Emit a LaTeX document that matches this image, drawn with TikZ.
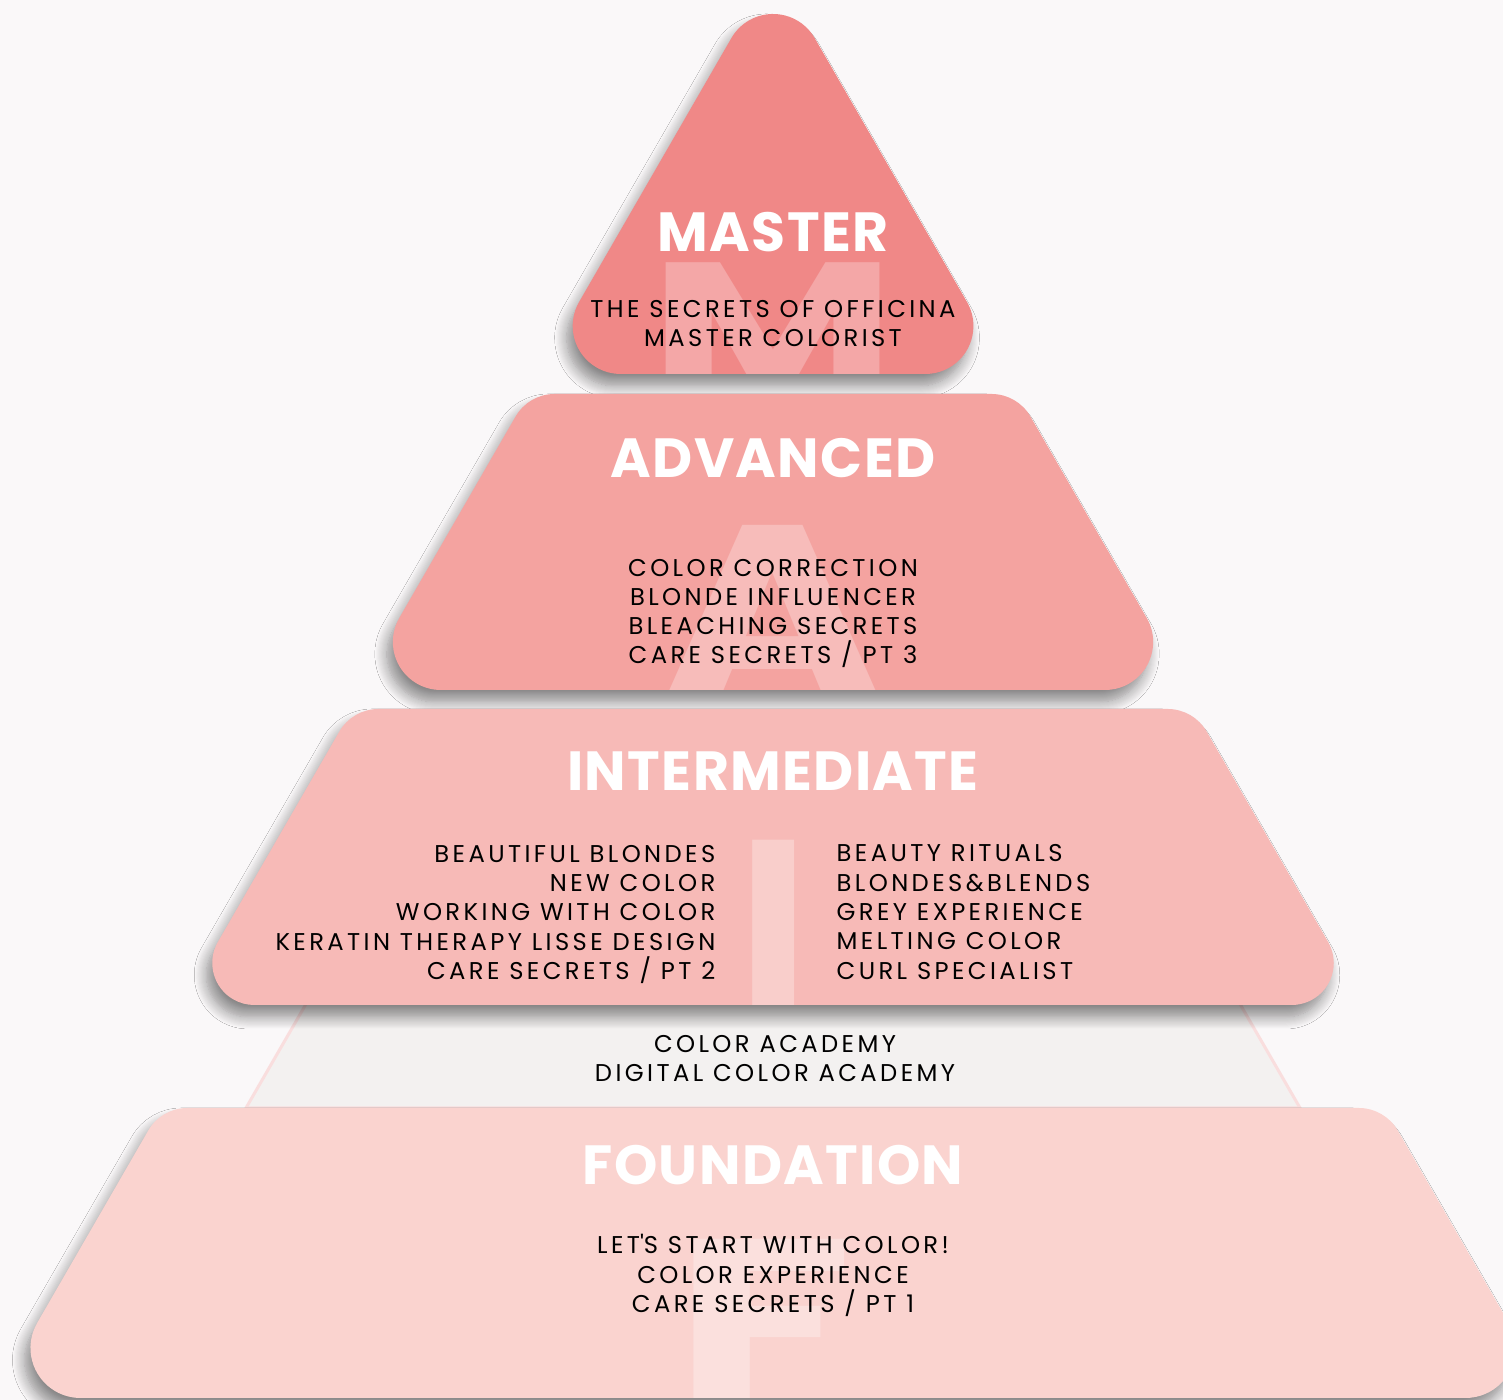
\documentclass[tikz,border=0pt]{standalone}
\usepackage{fontspec}
\setmainfont{Poppins}
\newfontfamily\bodyfont{Poppins}[LetterSpace=14]
\newfontfamily\titlefont{Poppins}[LetterSpace=2.5]
\usetikzlibrary{shadows.blur}

\definecolor{bgcol}{HTML}{FAF8F9}
\definecolor{mastercol}{HTML}{F08887}
\definecolor{masterlet}{HTML}{F4A7A7}
\definecolor{advcol}{HTML}{F4A3A0}
\definecolor{advlet}{HTML}{F7BCBA}
\definecolor{intcol}{HTML}{F7BAB7}
\definecolor{intlet}{HTML}{F9CECB}
\definecolor{fndcol}{HTML}{FAD3CF}
\definecolor{fndlet}{HTML}{FBE0DD}
\definecolor{bandcol}{HTML}{F3F1F0}
\definecolor{bandline}{HTML}{F9DEDE}

% one tier of the pyramid: top y, bottom y, half width on top, top radius, bottom radius
\newcommand{\settier}[5]{%
  \pgfmathsetmacro\tierT{#1}%
  \pgfmathsetmacro\tierB{#2}%
  \pgfmathsetmacro\tierwt{#3}%
  \pgfmathsetmacro\tierwb{#3+(#1-#2)/sqrt(3)}%
  \pgfmathsetmacro\tierrt{#4}%
  \pgfmathsetmacro\tierrb{#5}%
  \pgfmathsetmacro\tierdt{#4/sqrt(3)}%
  \pgfmathsetmacro\tierdb{#5*sqrt(3)}}
\newcommand{\tierpath}{(773-\tierwb+\tierdb,\tierB) -- (773+\tierwb-\tierdb,\tierB)
  arc[start angle=-90,end angle=30,radius=\tierrb]
  -- ({773+\tierwt+0.5*\tierdt},{\tierT-0.866*\tierdt})
  arc[start angle=30,end angle=90,radius=\tierrt]
  -- ({773-\tierwt+\tierdt},\tierT)
  arc[start angle=90,end angle=150,radius=\tierrt]
  -- ({773-\tierwb+0.5*\tierdb},{\tierB+0.866*\tierdb})
  arc[start angle=150,end angle=270,radius=\tierrb] -- cycle}
\newcommand{\masterpath}{(620.6,1026) -- (925.4,1026)
  arc[start angle=-90,end angle=30,radius=48] -- (814.6,1362)
  arc[start angle=30,end angle=150,radius=48] -- (579.1,1098)
  arc[start angle=150,end angle=270,radius=48] -- cycle}

\tikzset{
  tiershadow/.style={blur shadow={shadow xshift=-0.6mm, shadow yshift=-1.2mm,
      shadow blur radius=1.2mm, shadow blur steps=12, shadow opacity=45}},
  title/.style={font=\titlefont\fontsize{15.7}{18}\selectfont\bfseries, text=white,
      inner sep=0, anchor=base},
  body/.style={font=\bodyfont\fontsize{6.9}{8.34}\selectfont, text=black,
      inner sep=0, align=center},
  bigletter/.style={font=\fontsize{#1}{#1}\selectfont\bfseries, inner sep=0,
      anchor=north},
}

\begin{document}
\begin{tikzpicture}[x=0.1mm,y=0.1mm]
  \useasboundingbox (0,0) rectangle (1503,1400);
  \fill[bgcol] (0,0) rectangle (1503,1400);

  % master
  \fill[mastercol, tiershadow] \masterpath;
  \begin{scope}
    \clip \masterpath;
    \node[bigletter=51, text=masterlet] (bigm) at (773,1138) {\scalebox{1.5}[1]{M}};
  \end{scope}
  \node[title] (master) at (773,1148) {MASTER};
  \node[body] (mastertext) at (773,1076.5) {THE SECRETS OF OFFICINA\\MASTER COLORIST};

  % advanced
  \settier{1006}{710}{244.4}{45}{48}
  \fill[advcol, tiershadow] \tierpath;
  \begin{scope}
    \clip \tierpath;
    \node[bigletter=71, text=advlet] (biga) at (773,875) {\scalebox{1.22}[1]{A}};
  \end{scope}
  \node[title] (advanced) at (773,922) {ADVANCED};
  \node[body] (advancedtext) at (773,786.5) {COLOR CORRECTION\\BLONDE INFLUENCER\\BLEACHING SECRETS\\CARE SECRETS / PT 3};

  % academy band
  \filldraw[fill=bandcol, draw=bandline, line width=0.3mm]
    (246,292) -- (1300,292) -- (1231.9,410) -- (314.1,410) -- cycle;
  \node[body] (academy) at (775,341.5) {COLOR ACADEMY\\DIGITAL COLOR ACADEMY};

  % intermediate
  \settier{691}{395}{420.6}{45}{42}
  \fill[intcol, tiershadow] \tierpath;
  \begin{scope}
    \clip \tierpath;
    \node[bigletter=82, text=intlet] (bigi) at (773.5,560) {\scalebox{0.85}[1]{I}};
  \end{scope}
  \node[title] (intermediate) at (773,609) {INTERMEDIATE};
  \node[body, align=right, anchor=east] (intleft) at (716,485.5)
    {BEAUTIFUL BLONDES\\NEW COLOR\\WORKING WITH COLOR\\KERATIN THERAPY LISSE DESIGN\\CARE SECRETS / PT 2};
  \node[body, align=left, anchor=west] (intright) at (836,488)
    {BEAUTY RITUALS\\BLONDES\&BLENDS\\GREY EXPERIENCE\\MELTING COLOR\\CURL SPECIALIST};

  % foundation
  \settier{292}{2}{611.7}{45}{50}
  \fill[fndcol, tiershadow] \tierpath;
  \begin{scope}
    \clip \tierpath;
    \node[bigletter=67, text=fndlet, anchor=north west] (bigf) at (672.5,161) {\scalebox{1.4}[1]{F}};
  \end{scope}
  \node[title] (foundation) at (773,215) {FOUNDATION};
  \node[body] (foundationtext) at (773,124.5) {LET\textquotesingle S START WITH COLOR!\\COLOR EXPERIENCE\\CARE SECRETS / PT 1};
\end{tikzpicture}
\end{document}
